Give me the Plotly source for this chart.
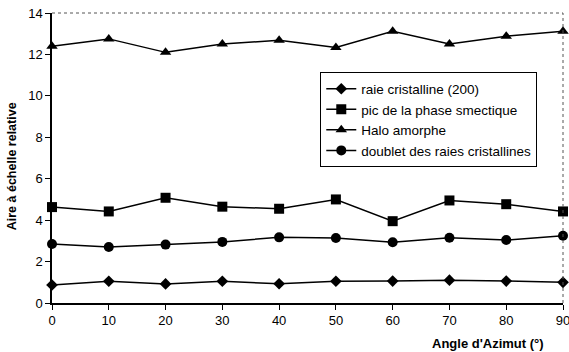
import plotly.graph_objects as go

angles = [0, 10, 20, 30, 40, 50, 60, 70, 80, 90]
raie_200 = [0.87, 1.05, 0.92, 1.05, 0.93, 1.05, 1.06, 1.1, 1.06, 1.0]
smectique = [4.63, 4.42, 5.08, 4.65, 4.55, 5.0, 3.95, 4.95, 4.77, 4.42]
halo = [12.4, 12.75, 12.1, 12.5, 12.68, 12.33, 13.12, 12.5, 12.88, 13.12]
doublet = [2.85, 2.7, 2.82, 2.95, 3.17, 3.14, 2.93, 3.15, 3.04, 3.25]

series = [
    ("raie cristalline (200)", raie_200, "diamond", 9),
    ("pic de la phase smectique", smectique, "square", 10),
    ("Halo amorphe", halo, "triangle-up", 10),
    ("doublet des raies cristallines", doublet, "circle", 10),
]

fig = go.Figure()
for name, vals, sym, size in series:
    fig.add_trace(go.Scatter(
        x=angles, y=vals, name=name, mode="lines+markers", cliponaxis=False,
        line=dict(color="black", width=1.5),
        marker=dict(symbol=sym, size=size, color="black"),
    ))

# pointillés en haut et à droite
fig.add_shape(type="line", xref="paper", yref="paper", x0=0, x1=1, y0=1, y1=1,
              line=dict(color="#555", width=1, dash="dot"))
fig.add_shape(type="line", xref="paper", yref="paper", x0=1, x1=1, y0=0, y1=1,
              line=dict(color="#555", width=1, dash="dot"))

axe = dict(showgrid=False, zeroline=False, showline=True, linecolor="black",
           linewidth=1.5, ticklen=5, tickcolor="black", tickwidth=1,
           automargin=False, ticklabeloverflow="allow")

fig.update_layout(
    width=569, height=352,
    margin=dict(l=52, r=6, t=13, b=49),
    paper_bgcolor="white", plot_bgcolor="white",
    font=dict(family="Liberation Sans, Arial", size=13, color="black"),
    showlegend=True,
    legend=dict(x=0.525, y=0.795, xanchor="left", yanchor="top",
                bordercolor="black", borderwidth=1, bgcolor="white",
                font=dict(size=13.5), tracegroupgap=0, itemwidth=30),
    xaxis=dict(range=[0, 90], tickvals=angles, ticks="outside", **axe),
    yaxis=dict(range=[0, 14], dtick=2, ticks="outside", **axe),
    # axes superposés pour les graduations qui traversent l'axe
    xaxis2=dict(range=[0, 90], tickvals=angles, ticks="inside", overlaying="x",
                showticklabels=False, **axe),
    yaxis2=dict(range=[0, 14], dtick=2, ticks="inside", overlaying="y",
                showticklabels=False, **axe),
)

fig.add_annotation(text="<b>Angle d'Azimut (°)</b>", xref="paper", yref="paper",
                   x=0.967, y=-0.138, xanchor="right", yanchor="middle",
                   showarrow=False, font=dict(size=13))
fig.add_annotation(text="<b>Aire à échelle relative</b>", xref="paper", yref="paper",
                   x=-0.078, y=0.472, xanchor="center", yanchor="middle", textangle=-90,
                   showarrow=False, font=dict(size=12.5))

# sans la marge par défaut du body, la figure remplit la fenêtre
fig.write_html("out.html", config={"displayModeBar": False},
               post_script="document.body.style.margin='0';")
